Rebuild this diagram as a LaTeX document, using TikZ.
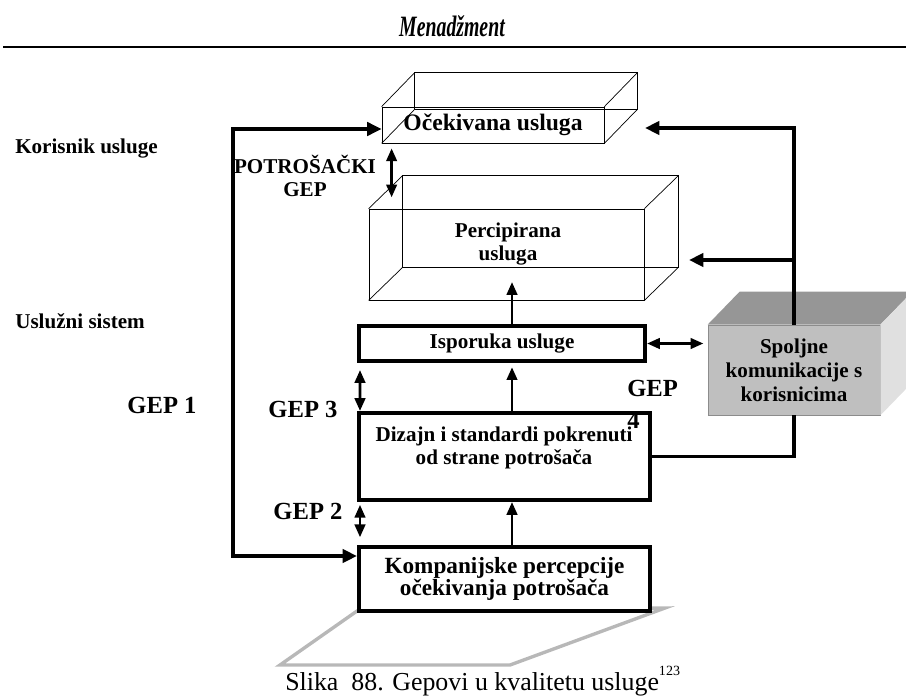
\documentclass[tikz,border=0pt]{standalone}
\usepackage{fontspec}
\setmainfont{Liberation Serif}
\usepackage{tikz}
\usetikzlibrary{arrows.meta,positioning,calc}

\begin{document}
\begin{tikzpicture}[x=0.025cm, y=-0.025cm,
  wire/.style={draw=black, line width=0.5pt, inner sep=0pt},
  gbox/.style={draw=black, fill=white, line width=2.8pt, inner sep=0pt},
  txt/.style={font=\fontsize{15}{16.5}\selectfont\bfseries, align=center, inner sep=0pt},
  gep/.style={font=\fontsize{17.5}{18.5}\selectfont\bfseries, inner sep=0pt},
  arrbig/.style={-{Triangle[length=3.6mm,width=3.3mm]}, line width=2.8pt},
  darrbig/.style={{Triangle[length=3.6mm,width=3.3mm]}-{Triangle[length=3.6mm,width=3.3mm]}, line width=2.8pt},
  arr/.style={-{Triangle[length=3.2mm,width=2.6mm]}, line width=2pt},
  darr/.style={{Triangle[length=3.2mm,width=2.6mm]}-{Triangle[length=3.2mm,width=2.6mm]}, line width=2pt}
]
  \clip (0,0) rectangle (906,696);

  \node[anchor=base, inner sep=0pt, font=\fontsize{21}{21}\selectfont\bfseries\itshape] (head) at (452,37) {\scalebox{0.67}[1]{Menadžment}};
  \draw[line width=2pt] (3,47) -- (906,47);

  \node[txt, anchor=base west] (kor) at (15,153) {Korisnik usluge};
  \node[txt, anchor=base west] (usl) at (15,328) {Uslužni sistem};

  \node[wire, minimum width=5.55cm, minimum height=0.9cm, font=\fontsize{16.8}{18}\selectfont\bfseries] (oce) at (493,125) {Očekivana usluga};
  \draw[wire] ($(oce.north west)+(33,-34)$) rectangle ($(oce.south east)+(33,-34)$);
  \foreach \c in {north west,north east,south west,south east}
    \draw[wire] (oce.\c) -- ++(33,-34);

  \node[wire, minimum width=6.875cm, minimum height=2.275cm] (perc) at (506.5,254.5) {};
  \draw[wire] ($(perc.north west)+(34,-33)$) rectangle ($(perc.south east)+(34,-33)$);
  \foreach \c in {north west,north east,south west,south east}
    \draw[wire] (perc.\c) -- ++(34,-33);
  \node[txt] (percT) at (508,244) {Percipirana\\usluga};

  \node[draw=black!45, fill=black!25, line width=0.5pt, minimum width=4.3cm, minimum height=2.25cm, txt, font=\fontsize{15}{17}\selectfont\bfseries] (spol) at (794,370) {Spoljne\\komunikacije s\\korisnicima};
  \fill[black!41] (spol.north west) -- ++(32,-33) -- ($(spol.north east)+(32,-33)$) -- (spol.north east) -- cycle;
  \fill[black!12] (spol.north east) -- ++(32,-33) -- ($(spol.south east)+(32,-33)$) -- (spol.south east) -- cycle;

  \node[gbox, txt, minimum width=7.15cm, minimum height=0.875cm] (isp) at (502,343.5) {Isporuka usluge};
  \node[gbox, minimum width=7.275cm, minimum height=2.175cm] (diz) at (504.5,456.5) {};
  \node[txt] (dizT) at (504,448) {Dizajn i standardi pokrenuti\\od strane potrošača};

  \draw[draw=black!28, line width=2.4pt] (357,611) -- (280,665) -- (510,665) -- (665,608) -- cycle;
  \node[gbox, txt, minimum width=7.275cm, minimum height=1.6cm, font=\fontsize{16.5}{15.8}\selectfont\bfseries] (komp) at (504.5,579) {Kompanijske percepcije\\očekivanja potrošača};

  \coordinate (loopTop) at (233,129);
  \coordinate (loopBot) at (233,556);
  \coordinate (oceIn) at (645,128);
  \coordinate (percIn) at (689,260);
  \coordinate (midx) at (512,0);

  \draw[darrbig] (loopTop -| oce.west) -- (loopTop) -- (loopBot) -- (loopBot -| komp.west);
  \draw[arrbig] (spol.north) |- (oceIn);
  \draw[arrbig] (spol.north |- percIn) -- (percIn);
  \draw[line width=2.8pt] (spol.south) |- (diz.east);
  \draw[darr, shorten >=3pt] (isp.east) -- (isp.east -| spol.west);

  \draw[arr] (isp.north -| midx) -- ++(0,-42);
  \draw[arr, shorten >=3pt] (diz.north -| midx) -- (isp.south -| midx);
  \draw[arr] (komp.north -| midx) -- (diz.south -| midx);
  \draw[darr, shorten <=5pt] ($(isp.south west)+(3,0)$) -- ($(diz.north west)+(3,0)$);
  \draw[darr, shorten <=2pt, shorten >=5.5pt] ($(diz.south west)+(3,0)$) -- ($(komp.north west)+(3,0)$);
  \draw[darr] ($(oce.south west)+(10,5)$) -- ++(0,49);

  \node[txt, anchor=north] (potr) at (305,155) {POTROŠAČKI\\GEP};
  \node[gep, anchor=base] (gep1) at (162,413) {GEP 1};
  \node[gep, anchor=base] (gep3) at (303,417) {GEP 3};
  \node[gep, anchor=base] (gep2) at (308,519) {GEP 2};
  \node[gep, anchor=north west, align=left] (gep4) at (627,380) {GEP\\[4pt]4};

  \node[anchor=base west, inner sep=0pt, font=\fontsize{18.4}{20}\selectfont] (cap) at (285,690) {Slika\ \ 88. Gepovi u kvalitetu usluge\raisebox{0.55em}{\fontsize{10}{10}\selectfont 123}};
\end{tikzpicture}
\end{document}
